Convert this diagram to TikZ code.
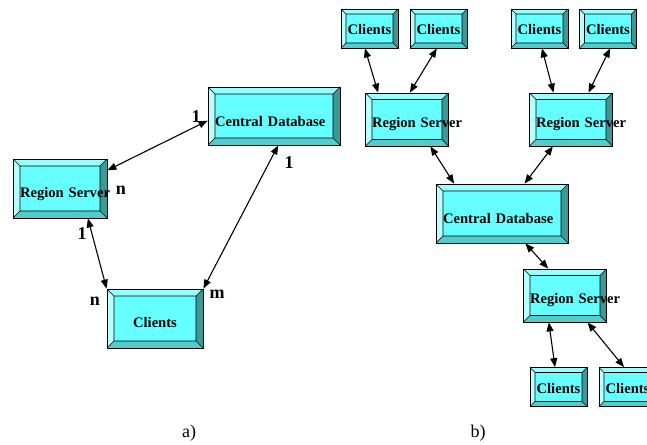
\documentclass[tikz,border=0pt]{standalone}
\usepackage{fontspec}
\setmainfont{Liberation Serif}
\usetikzlibrary{arrows.meta,calc}

\definecolor{bevface}{HTML}{66FFFF}
\definecolor{bevtop}{HTML}{99FFFF}
\definecolor{bevleft}{HTML}{B8FFFF}
\definecolor{bevbottom}{HTML}{52CCCC}
\definecolor{bevright}{HTML}{3D9999}

\begin{document}
\begin{tikzpicture}[x=1pt, y=-1pt,
    bevel inset/.store in=\bevinset, bevel inset=7pt,
    bevel/.style={draw, line width=0.8pt, fill=bevface, inner sep=0pt,
        font=\bfseries\fontsize{14.6}{16}\selectfont, text depth=0pt,
        path picture={
            \coordinate (bvsw) at (path picture bounding box.south west);
            \coordinate (bvse) at (path picture bounding box.south east);
            \coordinate (bvnw) at (path picture bounding box.north west);
            \coordinate (bvne) at (path picture bounding box.north east);
            \coordinate (bvisw) at ($(bvsw)+(\bevinset,\bevinset)$);
            \coordinate (bvise) at ($(bvse)+(-\bevinset,\bevinset)$);
            \coordinate (bvinw) at ($(bvnw)+(\bevinset,-\bevinset)$);
            \coordinate (bvine) at ($(bvne)+(-\bevinset,-\bevinset)$);
            \fill[bevtop] (bvnw) -- (bvne) -- (bvine) -- (bvinw) -- cycle;
            \fill[bevleft] (bvnw) -- (bvsw) -- (bvisw) -- (bvinw) -- cycle;
            \fill[bevbottom] (bvsw) -- (bvse) -- (bvise) -- (bvisw) -- cycle;
            \fill[bevright] (bvse) -- (bvne) -- (bvine) -- (bvise) -- cycle;
            \draw[line width=0.6pt] (bvisw) rectangle (bvine)
                (bvsw) -- (bvisw) (bvse) -- (bvise)
                (bvnw) -- (bvinw) (bvne) -- (bvine);
        }},
    cdbox/.style={bevel, minimum width=132pt, minimum height=58pt,
        text width=118pt, align=left, text height=20pt},
    rsbox/.style={bevel, minimum width=94pt, minimum height=59pt,
        text width=80pt, align=left, text height=17pt},
    clbox/.style={bevel, minimum width=96pt, minimum height=59pt,
        text width=82pt, align=center, text height=17pt},
    rssmall/.style={bevel, bevel inset=6.5pt, minimum width=83pt,
        minimum height=53pt, text width=70pt, align=left, text height=15pt},
    clsmall/.style={bevel, bevel inset=5pt, minimum width=57pt,
        minimum height=39pt, text width=47pt, align=center, text height=12pt},
    link/.style={<->, >={Triangle[length=9pt,width=7pt]}, line width=1.1pt},
    card/.style={font=\bfseries\fontsize{18}{20}\selectfont, inner sep=0pt},
    caption/.style={font=\fontsize{18}{20}\selectfont, inner sep=0pt}
]
    \useasboundingbox (0,0) rectangle (647,444);

    % a) one central database
    \node[cdbox] (cda) at (274,116) {Central Database};
    \node[rsbox] (rsa) at (60,188.5) {\mbox{Region Server}};
    \node[clbox] (cla) at (155,318.5) {Clients};

    \draw[link] (rsa.21) -- (cda.184);
    \draw[link] (cda.278) -- (cla.north east);
    \draw[link] (rsa.313) -- (cla.north west);

    \node[card] (cda1) at (196,117) {1};
    \node[card] (rsan) at (121,190) {n};
    \node[card] (cdb1) at (289,163) {1};
    \node[card] (rsa1) at (82,234) {1};
    \node[card] (clan) at (95,301) {n};
    \node[card] (clam) at (217,294) {m};

    % b) tree of servers
    \node[clsmall] (cl1) at (369.5,28.5) {Clients};
    \node[clsmall] (cl2) at (438.5,28.5) {Clients};
    \node[clsmall] (cl3) at (539.5,28.5) {Clients};
    \node[clsmall] (cl4) at (608,28.5) {Clients};
    \node[rssmall] (rs1) at (407,119.5) {\mbox{Region Server}};
    \node[rssmall] (rs2) at (571,119.5) {\mbox{Region Server}};
    \node[cdbox, minimum height=59pt] (cdb) at (502,213.5) {Central Database};
    \node[rssmall] (rs3) at (565,295.5) {\mbox{Region Server}};
    \node[clsmall] (cl5) at (558.5,387) {Clients};
    \node[clsmall] (cl6) at (627.5,387) {Clients};

    \draw[link] (cl1.257) -- (rs1.137);
    \draw[link] (cl2.265) -- (rs1.84);
    \draw[link] (cl3.277) -- (rs2.123);
    \draw[link] (cl4.276) -- (rs2.57);
    \draw[link] (rs1.311) -- (cdb.148);
    \draw[link] (rs2.236) -- (cdb.53);
    \draw[link] (cdb.308) -- (rs3.122);
    \draw[link] (rs3.239) -- (cl5.100);
    \draw[link] (rs3.310) -- (cl6.100);

    \node[caption] (capa) at (189,433) {a)};
    \node[caption] (capb) at (478,433) {b)};
\end{tikzpicture}
\end{document}
